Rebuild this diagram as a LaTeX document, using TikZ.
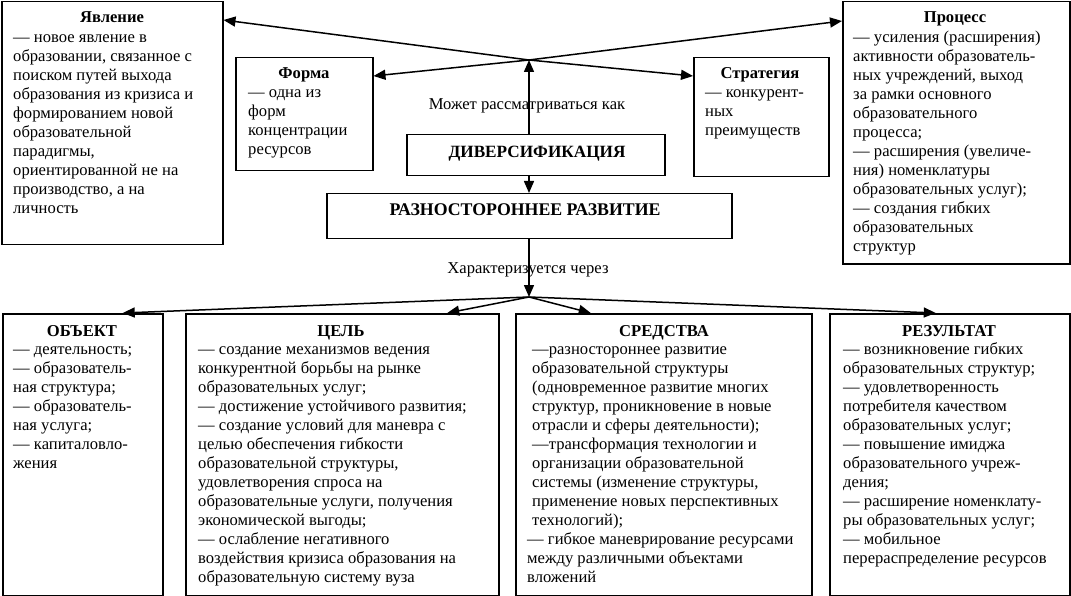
\documentclass[tikz,border=0pt]{standalone}
\usepackage{fontspec}
\setmainfont{Liberation Serif}
\usetikzlibrary{arrows.meta,calc}
\begin{document}
\begin{tikzpicture}[x=1pt,y=-1pt,
  every node/.style={font=\fontsize{16.6pt}{19pt}\selectfont},
  box/.style={draw, line width=1.5pt, inner sep=0pt, anchor=north west},
  ttl/.style={font=\fontsize{16.6pt}{19pt}\selectfont\bfseries, inner sep=0pt, anchor=base},
  bigttl/.style={font=\fontsize{17.2pt}{19pt}\selectfont\bfseries, inner sep=0pt, anchor=base},
  body/.style={align=left, inner sep=0pt, anchor=north west, yshift=13.3pt},
  lbl/.style={inner sep=0pt, anchor=base},
  arr/.style={-{Triangle[length=12pt,width=10pt]}, line width=1.5pt}]
\useasboundingbox (0,0) rectangle (1071,596);

% boxes
\node[box, minimum width=221, minimum height=243] (yav) at (1,1) {};
\node[box, minimum width=227, minimum height=262] (proc) at (842,1) {};
\node[box, minimum width=137, minimum height=113] (forma) at (235,57) {};
\node[box, minimum width=135, minimum height=119] (strat) at (693,57) {};
\node[box, minimum width=258, minimum height=41] (div) at (406,134) {};
\node[box, minimum width=405, minimum height=45] (razv) at (326,193) {};
\node[box, minimum width=160, minimum height=282] (obj) at (2,313) {};
\node[box, minimum width=313, minimum height=282] (cel) at (185,313) {};
\node[box, minimum width=296, minimum height=282] (sred) at (515,313) {};
\node[box, minimum width=240, minimum height=282] (rez) at (829,313) {};

% titles
\node[ttl] (yavt) at (112,23) {Явление};
\node[ttl] (proct) at (955,23) {Процесс};
\node[ttl] (format) at (304,79) {Форма};
\node[ttl] (stratt) at (760,79) {Стратегия};
\node[bigttl] (divt) at (537,158) {ДИВЕРСИФИКАЦИЯ};
\node[bigttl, font=\fontsize{17.8pt}{19pt}\selectfont\bfseries] (razvt) at (525,216) {РАЗНОСТОРОННЕЕ РАЗВИТИЕ};
\node[ttl] (objt) at (82,336) {ОБЪЕКТ};
\node[ttl] (celt) at (341,336) {ЦЕЛЬ};
\node[ttl] (sredt) at (664,336) {СРЕДСТВА};
\node[ttl] (rezt) at (949,336) {РЕЗУЛЬТАТ};

% bodies
\node[body] (yavb) at (13,42) {\strut— новое явление в\\образовании, связанное с\\поиском путей выхода\\образования из кризиса и\\формированием новой\\образовательной\\парадигмы,\\ориентированной не на\\производство, а на\\личность};
\node[body] (procb) at (853,42) {\strut— усиления (расширения)\\активности образователь-\\ных учреждений, выход\\за рамки основного\\образовательного\\процесса;\\— расширения (увеличе-\\ния) номенклатуры\\образовательных услуг);\\— создания гибких\\образовательных\\структур};
\node[body] (formab) at (248,97) {\strut— одна из\\форм\\концентрации\\ресурсов};
\node[body] (stratb) at (705,97) {\strut— конкурент-\\ных\\преимуществ};
\node[body] (objb) at (13,354) {\strut— деятельность;\\— образователь-\\ная структура;\\— образователь-\\ная услуга;\\— капиталовло-\\жения};
\node[body] (celb) at (198,354) {\strut— создание механизмов ведения\\конкурентной борьбы на рынке\\образовательных услуг;\\— достижение устойчивого развития;\\— создание условий для маневра с\\целью обеспечения гибкости\\образовательной структуры,\\удовлетворения спроса на\\образовательные услуги, получения\\экономической выгоды;\\— ослабление негативного\\воздействия кризиса образования на\\образовательную систему вуза};
\node[body] (sredb) at (527,354) {\strut\hspace*{5pt}—разностороннее развитие\\\hspace*{5pt}образовательной структуры\\\hspace*{5pt}(одновременное развитие многих\\\hspace*{5pt}структур, проникновение в новые\\\hspace*{5pt}отрасли и сферы деятельности);\\\hspace*{5pt}—трансформация технологии и\\\hspace*{5pt}организации образовательной\\\hspace*{5pt}системы (изменение структуры,\\\hspace*{5pt}применение новых перспективных\\\hspace*{5pt}технологий);\\— гибкое маневрирование ресурсами\\между различными объектами\\вложений};
\node[body] (rezb) at (843,354) {\strut— возникновение гибких\\образовательных структур;\\— удовлетворенность\\потребителя качеством\\образовательных услуг;\\— повышение имиджа\\образовательного учреж-\\дения;\\— расширение номенклату-\\ры образовательных услуг;\\— мобильное\\перераспределение ресурсов};

% labels
\node[lbl] (l1) at (527,110) {Может рассматриваться как};
\node[lbl] (l2) at (528,273) {Характеризуется через};

% hubs
\coordinate (h1) at (529,60);
\coordinate (h2) at (529,297);

% connectors
\draw[arr] (h1) -- ([yshift=-19pt]yav.north east);
\draw[arr] (h1) -- ([yshift=-20pt]proc.north west);
\draw[arr] (h1) -- ([yshift=-19pt]forma.north east);
\draw[arr] (h1) -- ([yshift=-19pt]strat.north west);
\draw[arr] (h1 |- div.north) -- (h1);
\draw[arr] (h1 |- div.south) -- (h1 |- razv.north);
\draw[arr] (h1 |- razv.south) -- (h2);
\draw[arr] (h2) -- ([xshift=40pt]obj.north);
\draw[arr] (h2) -- ([xshift=105pt]cel.north);
\draw[arr] (h2) -- ([xshift=-73pt]sred.north);
\draw[arr] (h2) -- ([xshift=-14pt]rez.north);
\end{tikzpicture}
\end{document}
